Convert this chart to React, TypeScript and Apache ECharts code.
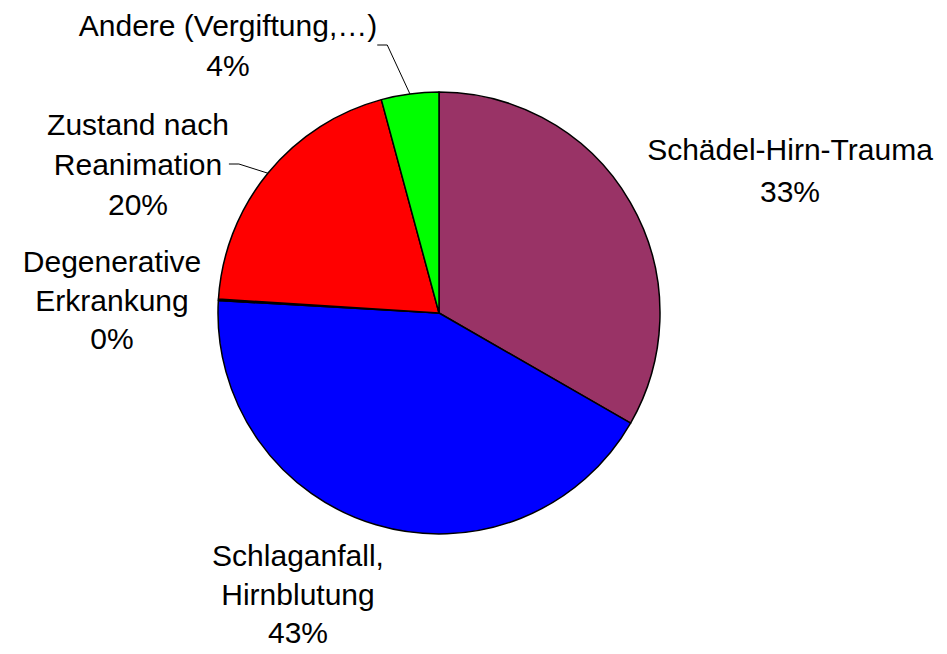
import React, { useEffect, useRef } from "react";
import * as echarts from "echarts";

const categories = [
  "Schädel-Hirn-Trauma",
  "Schlaganfall,\nHirnblutung",
  "Degenerative\nErkrankung",
  "Zustand nach\nReanimation",
  "Andere (Vergiftung,…)",
];
const values = [33.3, 42.6, 0.1, 19.8, 4.2];
const colors = ["#993366", "#0000FF", "#FFFF99", "#FF0000", "#00FF00"];
const showLeader = [false, false, false, true, true];

// label block centres and line heights (layout, not data)
const labelPos: [number, number][] = [
  [790, 170],
  [298, 594],
  [112, 300],
  [138, 164],
  [228, 45],
];
const labelLineHeights = [42, 38.5, 38.5, 40, 40];

export default function App() {
  const ref = useRef<HTMLDivElement>(null);
  useEffect(() => {
    if (!ref.current) return;
    const chart = echarts.init(ref.current, undefined, { renderer: "svg" });
    chart.setOption({
      animation: false,
      backgroundColor: "#ffffff",
      series: [
        {
          type: "pie",
          center: [439, 313],
          radius: 221,
          startAngle: 90,
          clockwise: true,
          avoidLabelOverlap: false,
          itemStyle: { borderColor: "#000000", borderWidth: 1.5 },
          label: {
            show: true,
            position: "outside",
            color: "#000000",
            fontFamily: "'Liberation Sans', Arial, sans-serif",
            fontSize: 30,
            lineHeight: 39,
            align: "center",
            formatter: (p: any) => `${p.name}\n${Math.round(p.percent)}%`,
          },
          labelLine: { show: true, lineStyle: { color: "#000000", width: 1 }, length: 10, length2: 10 },
          labelLayout: (params: any) => {
            const [x, y] = labelPos[params.dataIndex];
            return { x, y, align: "center", verticalAlign: "middle" };
          },
          emphasis: { disabled: true },
          data: categories.map((name, i) => ({
            name,
            value: values[i],
            itemStyle: { color: colors[i] },
            label: { lineHeight: labelLineHeights[i] },
            labelLine: { show: showLeader[i] },
          })),
        },
      ],
    });
    return () => chart.dispose();
  }, []);
  return (
    <div
      ref={ref}
      style={{ position: "absolute", left: 0, top: 0, width: 947, height: 654 }}
    />
  );
}
